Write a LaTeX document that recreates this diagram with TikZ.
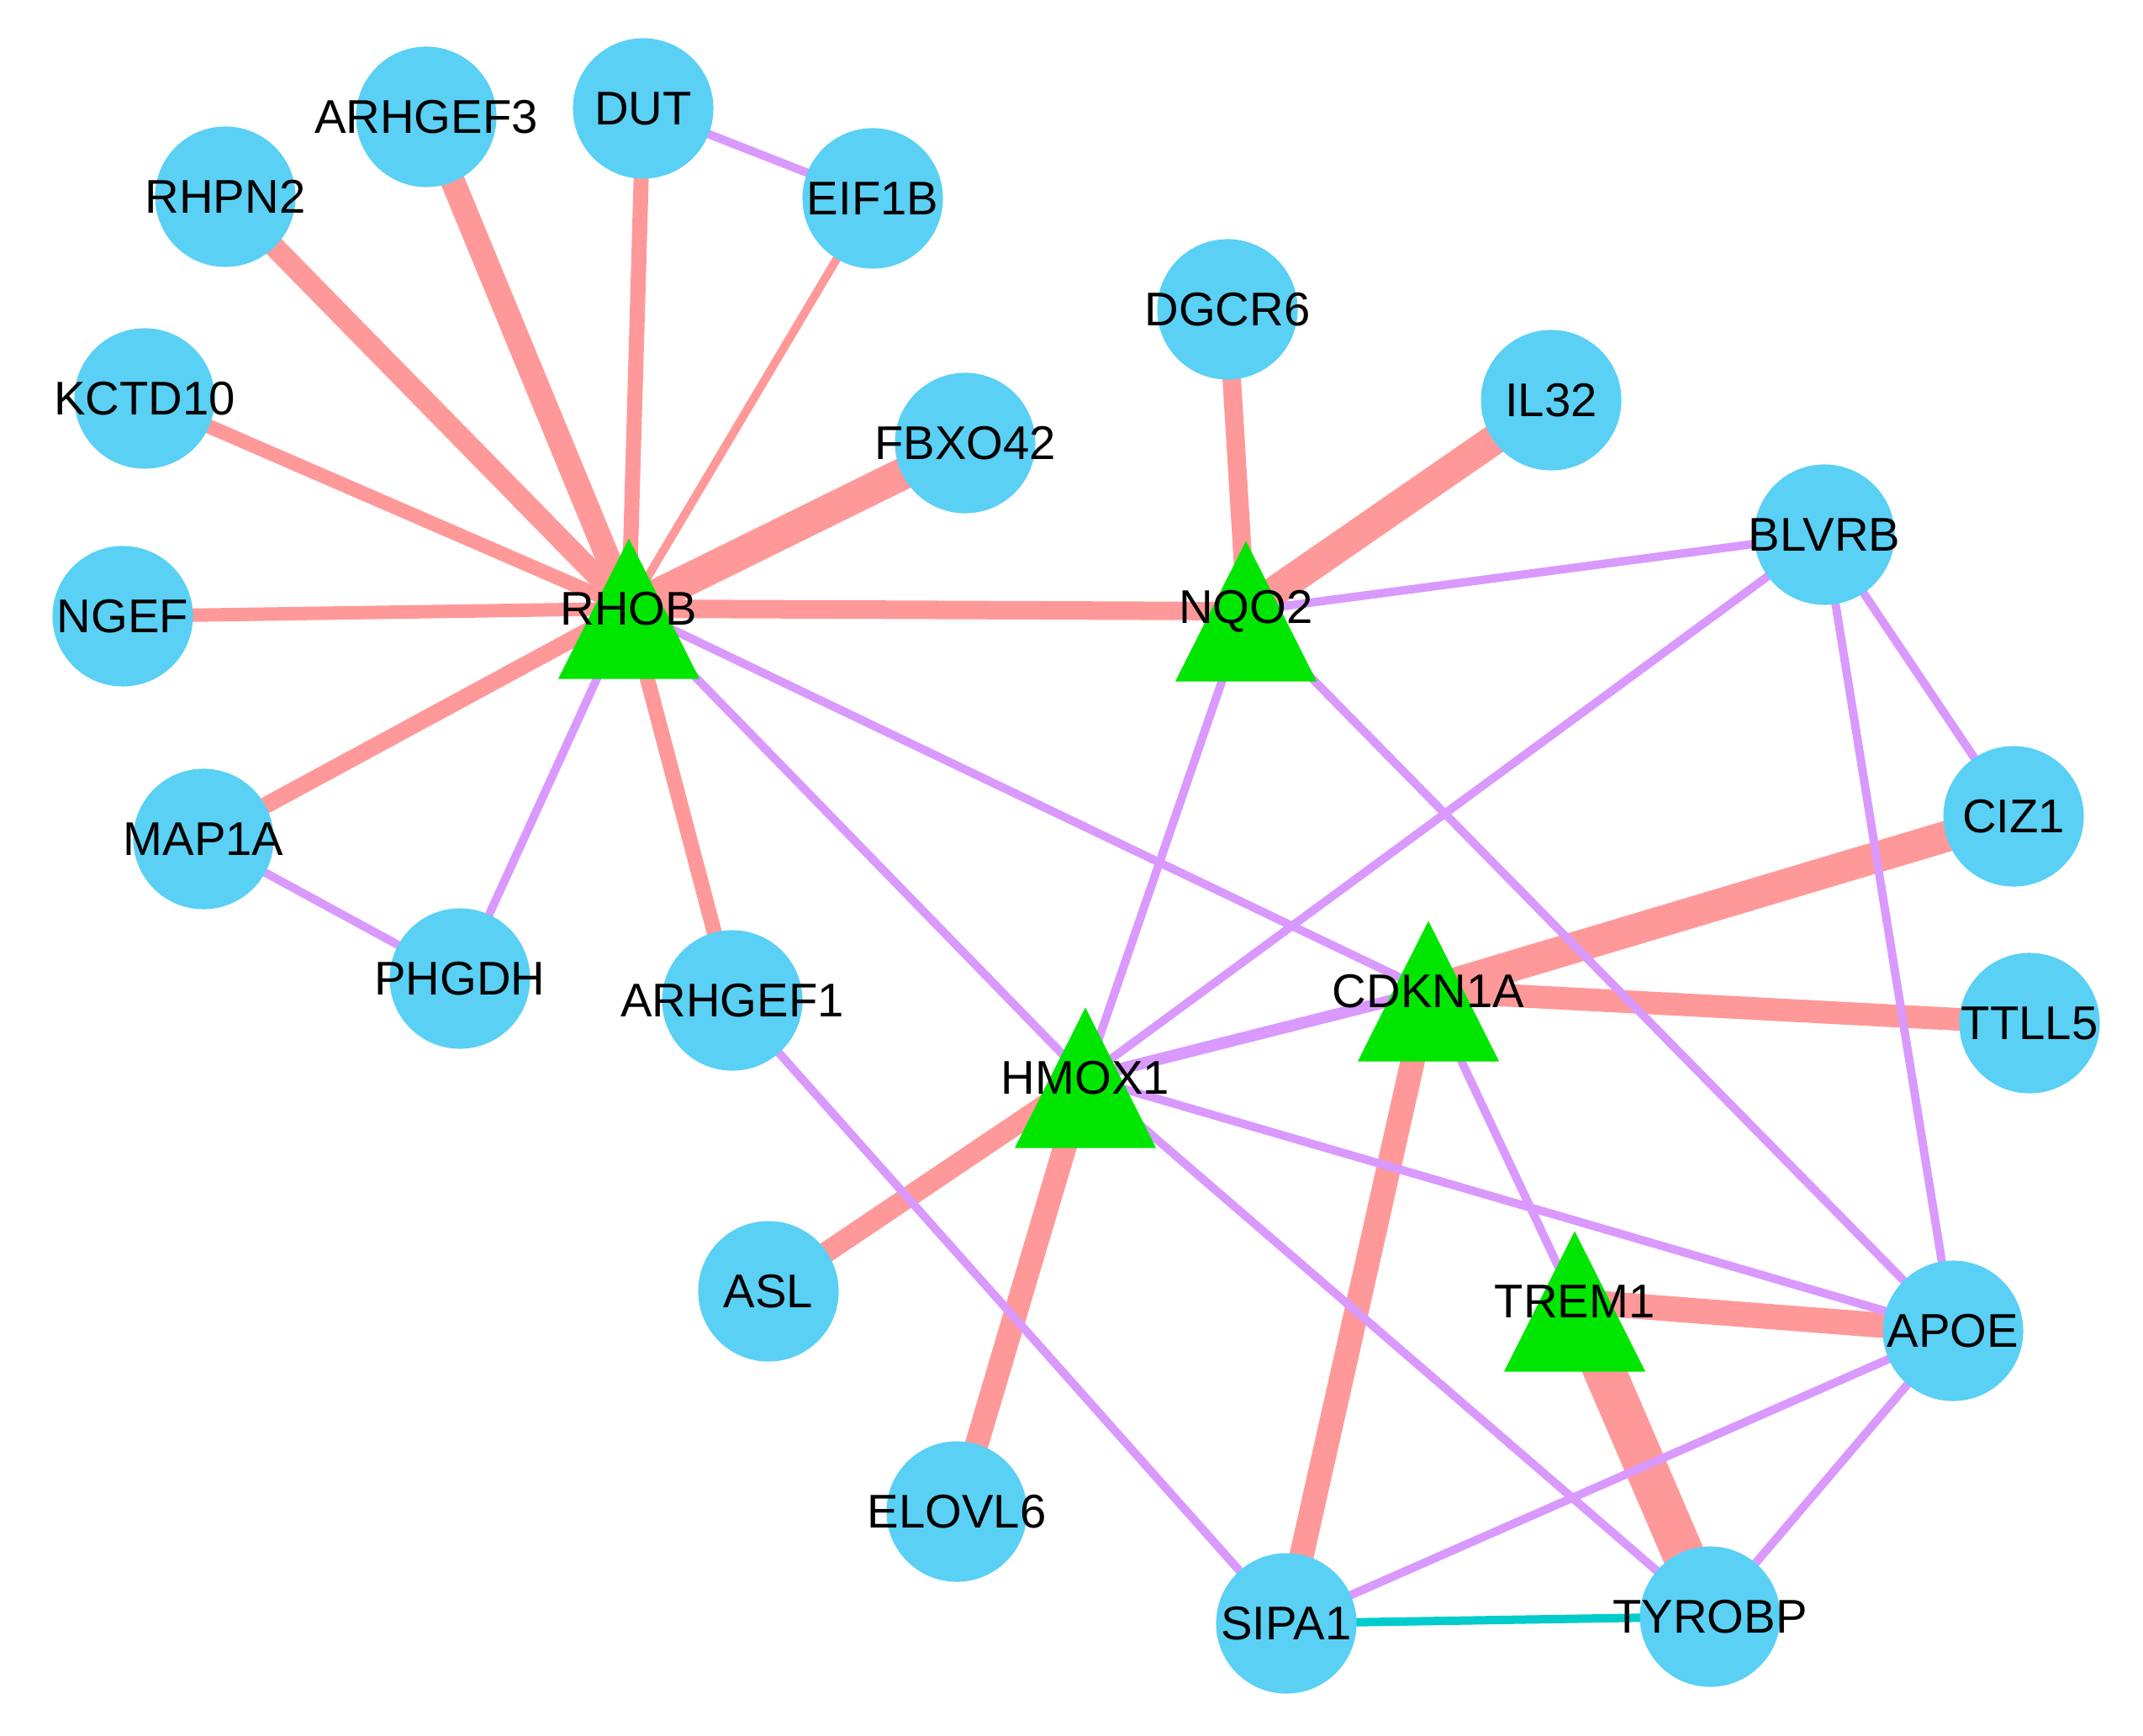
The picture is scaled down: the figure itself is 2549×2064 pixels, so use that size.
\documentclass[tikz,border=0pt]{standalone}
\usepackage{fontspec}
\setmainfont{Liberation Sans}
\definecolor{geneColour}{RGB}{90, 208, 245}
\definecolor{hubColour}{RGB}{0, 230, 0}
\definecolor{tieColour}{RGB}{255, 153, 153}
\definecolor{linkColour}{RGB}{217, 153, 255}
\definecolor{pairColour}{RGB}{0, 204, 204}
\usetikzlibrary{
    shapes.geometric
}
\pgfdeclarelayer{background}
\pgfsetlayers{background,main}
\begin{document}
\begin{tikzpicture}[
        x=0.01cm, y=-0.01cm,
        gene/.style={circle, fill=geneColour, minimum size=1.67cm, inner sep=0pt},
        hub/.style={rectangle, minimum width=1.68cm, minimum height=1.67cm, inner sep=0pt,
            path picture={\fill[hubColour] (path picture bounding box.south west)
                -- (path picture bounding box.south east)
                -- (path picture bounding box.north) -- cycle;}},
        every label/.style={font=\fontsize{16}{19}\selectfont, inner sep=0pt},
    ]
    \useasboundingbox (0,0) rectangle (2549,2064);
    \begin{scope}
        % hubs
        \node[hub, label=center:RHOB] (RHOB) at (748,724) {};
        \node[hub, label=center:NQO2] (NQO2) at (1482,727) {};
        \node[hub, label=center:HMOX1] (HMOX1) at (1291,1282) {};
        \node[hub, label=center:CDKN1A] (CDKN1A) at (1699,1179) {};
        \node[hub, label=center:TREM1] (TREM1) at (1873,1548) {};

        % genes
        \node[gene, label=center:ARHGEF3] (ARHGEF3) at (507,139) {};
        \node[gene, label=center:DUT] (DUT) at (765,129) {};
        \node[gene, label=center:RHPN2] (RHPN2) at (268,234) {};
        \node[gene, label=center:EIF1B] (EIF1B) at (1038,236) {};
        \node[gene, label=center:KCTD10] (KCTD10) at (172,474) {};
        \node[gene, label=center:FBXO42] (FBXO42) at (1148,527) {};
        \node[gene, label=center:NGEF] (NGEF) at (146,733) {};
        \node[gene, label=center:MAP1A] (MAP1A) at (242,998) {};
        \node[gene, label=center:PHGDH] (PHGDH) at (547,1164) {};
        \node[gene, label=center:ARHGEF1] (ARHGEF1) at (871,1190) {};
        \node[gene, label=center:ASL] (ASL) at (914,1536) {};
        \node[gene, label=center:ELOVL6] (ELOVL6) at (1138,1798) {};
        \node[gene, label=center:DGCR6] (DGCR6) at (1460,368) {};
        \node[gene, label=center:IL32] (IL32) at (1845,476) {};
        \node[gene, label=center:BLVRB] (BLVRB) at (2170,636) {};
        \node[gene, label=center:CIZ1] (CIZ1) at (2395,971) {};
        \node[gene, label=center:TTLL5] (TTLL5) at (2414,1217) {};
        \node[gene, label=center:APOE] (APOE) at (2323,1583) {};
        \node[gene, label=center:SIPA1] (SIPA1) at (1530,1931) {};
        \node[gene, label=center:TYROBP] (TYROBP) at (2034,1923) {};
    \end{scope}

    \begin{pgfonlayer}{background}
    \begin{scope} [every edge/.style={draw=tieColour}]
        \path (RHOB.center) edge[line width=0.29cm] (ARHGEF3.center);
        \path (RHOB.center) edge[line width=0.25cm] (RHPN2.center);
        \path (RHOB.center) edge[line width=0.18cm] (DUT.center);
        \path (RHOB.center) edge[line width=0.10cm] (EIF1B.center);
        \path (RHOB.center) edge[line width=0.17cm] (KCTD10.center);
        \path (RHOB.center) edge[line width=0.38cm] (FBXO42.center);
        \path (RHOB.center) edge[line width=0.16cm] (NGEF.center);
        \path (RHOB.center) edge[line width=0.20cm] (MAP1A.center);
        \path (RHOB.center) edge[line width=0.18cm] (ARHGEF1.center);
        \path (RHOB.center) edge[line width=0.22cm] (NQO2.center);
        \path (NQO2.center) edge[line width=0.22cm] (DGCR6.center);
        \path (NQO2.center) edge[line width=0.36cm] (IL32.center);
        \path (CDKN1A.center) edge[line width=0.37cm] (CIZ1.center);
        \path (CDKN1A.center) edge[line width=0.27cm] (TTLL5.center);
        \path (CDKN1A.center) edge[line width=0.29cm] (SIPA1.center);
        \path (HMOX1.center) edge[line width=0.25cm] (ASL.center);
        \path (HMOX1.center) edge[line width=0.28cm] (ELOVL6.center);
        \path (TREM1.center) edge[line width=0.30cm] (APOE.center);
        \path (TREM1.center) edge[line width=0.50cm] (TYROBP.center);
    \end{scope}
    \begin{scope} [every edge/.style={draw=linkColour, line width=0.10cm}]
        \path (DUT.center) edge (EIF1B.center);
        \path (RHOB.center) edge (PHGDH.center);
        \path (MAP1A.center) edge (PHGDH.center);
        \path (RHOB.center) edge (HMOX1.center);
        \path (RHOB.center) edge (CDKN1A.center);
        \path (NQO2.center) edge (BLVRB.center);
        \path (NQO2.center) edge (HMOX1.center);
        \path (NQO2.center) edge (APOE.center);
        \path (BLVRB.center) edge (HMOX1.center);
        \path (BLVRB.center) edge (CIZ1.center);
        \path (BLVRB.center) edge (APOE.center);
        \path (HMOX1.center) edge[line width=0.14cm] (CDKN1A.center);
        \path (HMOX1.center) edge (APOE.center);
        \path (HMOX1.center) edge (TYROBP.center);
        \path (CDKN1A.center) edge (TREM1.center);
        \path (ARHGEF1.center) edge (SIPA1.center);
        \path (SIPA1.center) edge (APOE.center);
        \path (APOE.center) edge (TYROBP.center);
    \end{scope}
    \path (SIPA1.center) edge[draw=pairColour, line width=0.10cm] (TYROBP.center);
    \end{pgfonlayer}
\end{tikzpicture}
\end{document}
